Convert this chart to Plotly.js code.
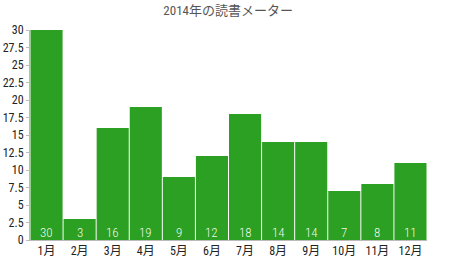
<!DOCTYPE html>
<html>
<head>
<meta charset="utf-8">
<script src="https://cdn.plot.ly/plotly-3.0.1.min.js"></script>
<style>html,body{margin:0;padding:0;background:#fff;}#chart{width:450px;height:270px;}</style>
</head>
<body>
<div id="chart"></div>
<script>
// Books read per month in 2014
const months = ["1月","2月","3月","4月","5月","6月","7月","8月","9月","10月","11月","12月"];
const booksRead = [30, 3, 16, 19, 9, 12, 18, 14, 14, 7, 8, 11];
const yTicks = [0, 2.5, 5, 7.5, 10, 12.5, 15, 17.5, 20, 22.5, 25, 27.5, 30];

const fontFamily = "'Roboto Condensed', 'DejaVu Sans Condensed', 'Noto Sans CJK JP', sans-serif";

const trace = {
  type: "bar",
  x: months,
  y: booksRead,
  marker: {color: "#2ca022"},
  hoverinfo: "none"
};

// value labels sitting at the foot of each bar
const valueLabels = months.map((m, i) => ({
  x: m,
  y: 0,
  xref: "x",
  yref: "y",
  text: String(booksRead[i]),
  showarrow: false,
  yanchor: "bottom",
  xanchor: "center",
  yshift: -2,
  font: {color: "rgba(255,255,255,0.95)", size: 13, family: fontFamily, weight: 300}
}));

const layout = {
  width: 450,
  height: 270,
  margin: {l: 30, r: 23, t: 30, b: 30},
  paper_bgcolor: "#ffffff",
  plot_bgcolor: "#ffffff",
  bargap: 0.03,
  showlegend: false,
  font: {family: fontFamily, size: 12, color: "#222"},
  title: {
    text: "2014年の読書メーター",
    font: {size: 13, color: "#555", family: fontFamily},
    x: 0.507, xanchor: "center", y: 0.962, yanchor: "middle"
  },
  annotations: valueLabels,
  xaxis: {
    showline: true, linecolor: "#bbb", linewidth: 1,
    ticks: "", tickfont: {size: 12, color: "#222"},
    showgrid: false, zeroline: false, fixedrange: true
  },
  yaxis: {
    range: [0, 30],
    tickvals: yTicks,
    ticktext: yTicks.map(String),
    showline: true, linecolor: "#bbb", linewidth: 1,
    ticks: "outside", ticklen: 3, tickcolor: "#bbb",
    tickfont: {size: 12, color: "#222"},
    showgrid: false, zeroline: false, fixedrange: true
  }
};

Plotly.newPlot("chart", [trace], layout, {displayModeBar: false, staticPlot: true});
</script>
</body>
</html>
